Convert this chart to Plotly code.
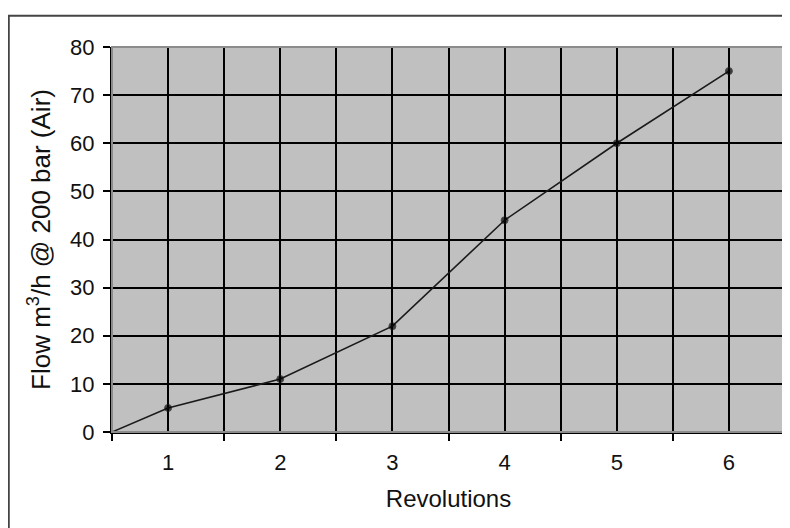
import plotly.graph_objects as go

# Revolutions vs flow (air at 200 bar); series starts at origin on the left edge
revolutions = [0.5, 1, 2, 3, 4, 5, 6]
flow = [0, 5, 11, 22, 44, 60, 75]
marker_sizes = [0, 7, 7, 7, 7, 7, 7]
x_labels = ['1', '2', '3', '4', '5', '6']

FONT = 'Liberation Sans, Arial, sans-serif'

fig = go.Figure()
fig.add_trace(go.Scatter(
    x=revolutions, y=flow, mode='lines+markers',
    line=dict(color='#1a1a1a', width=1.6),
    marker=dict(color='black', size=marker_sizes),
    showlegend=False, cliponaxis=False,
))

# page body has an 8px margin, so the figure is 8px smaller and shifted
fig.update_layout(
    width=782, height=520,
    margin=dict(l=104, r=5, t=39, b=96),
    paper_bgcolor='white', plot_bgcolor='#c0c0c0',
    font=dict(family=FONT, size=22, color='#111'),
    showlegend=False,
)

fig.update_xaxes(
    range=[0.5, 6.5], tickvals=[1, 2, 3, 4, 5, 6], ticktext=x_labels,
    ticks='', showgrid=True, gridcolor='black', gridwidth=2,
    minor=dict(tick0=0.5, dtick=1, ticks='outside', ticklen=7, tickcolor='black',
               tickwidth=2, showgrid=True, gridcolor='black', gridwidth=2),
    showline=True, linecolor='black', linewidth=2, zeroline=False,
    ticklabelstandoff=10, automargin=False,
    title=dict(text='Revolutions', font=dict(size=24), standoff=16),
)
fig.update_yaxes(
    range=[0, 80], dtick=10, ticks='outside', ticklen=7, tickcolor='black', tickwidth=2,
    showgrid=True, gridcolor='black', gridwidth=2,
    showline=True, linecolor='black', linewidth=2, zeroline=False,
    ticklabelstandoff=4, automargin=False,
    title=dict(text='Flow m<sup>3</sup>/h @ 200 bar (Air)', font=dict(size=26), standoff=12),
)

# light edge on top/right of plot area, outer chart frame
fig.add_shape(type='rect', xref='x domain', yref='y domain', x0=0, x1=1, y0=0, y1=1,
              line=dict(color='#8c8c8c', width=2), layer='above')
fig.add_shape(type='rect', xref='paper', yref='paper', x0=-0.1534, x1=1.05, y0=-0.4, y1=1.0813,
              line=dict(color='#444', width=2), layer='below')

fig.write_html("out.html")
